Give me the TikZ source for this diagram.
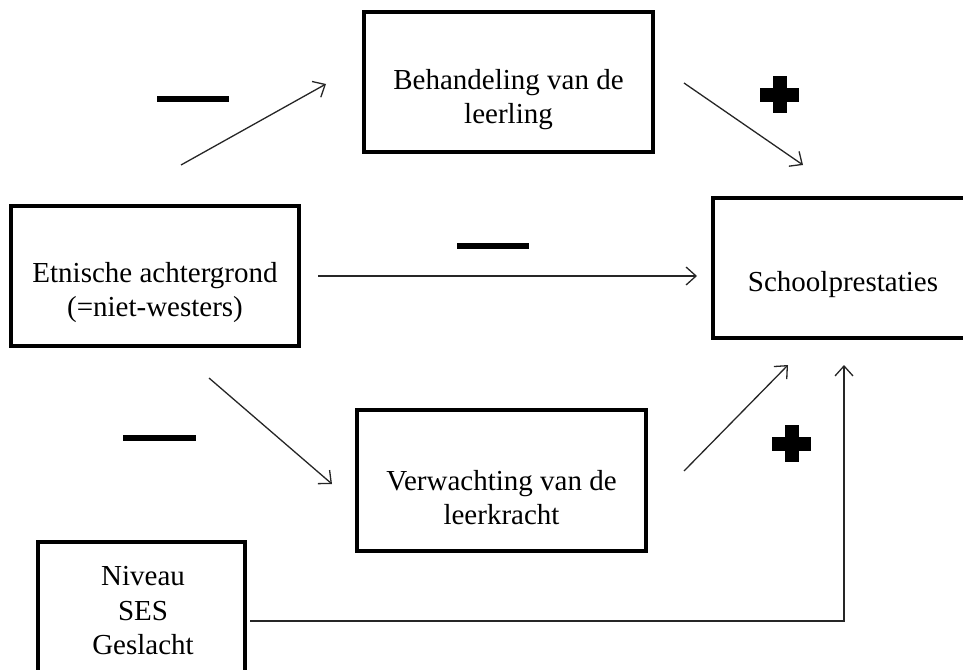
\documentclass[tikz,border=0pt]{standalone}
\usepackage{fontspec}
\setmainfont{Liberation Serif}
\usetikzlibrary{arrows.meta}
\begin{document}
\begin{tikzpicture}[x=1pt,y=-1pt,
  box/.style={draw=black,line width=3.5pt,rectangle,inner sep=0pt,outer sep=0pt},
  txt/.style={align=center,font=\fontsize{29}{34.5}\selectfont,inner sep=0pt},
  arr/.style={draw=black!85,line width=1.3pt,-{Straight Barb[length=10pt,width=18pt,line width=1.3pt]}},
  minus/.style={line width=6pt,draw=black},
  plusmark/.style={fill=black}]
\useasboundingbox (0,0) rectangle (963,669);
\clip (0,0) rectangle (963,669);

% boxes
\node[box,minimum width=289pt,minimum height=140pt] (beh) at (508.5,82) {};
\node[box,minimum width=288pt,minimum height=140pt] (etn) at (155,276) {};
\node[box,minimum width=297pt,minimum height=140pt] (sch) at (861.5,268) {};
\node[box,minimum width=289pt,minimum height=141pt] (ver) at (501.5,480.5) {};
\node[box,minimum width=207pt,minimum height=150pt] (niv) at (141.5,617) {};

% texts
\node[txt] (behT) at (508.5,99.5) {Behandeling van de\\leerling};
\node[txt] (etnT) at (155,292.5) {Etnische achtergrond\\(=niet-westers)};
\node[txt] (schT) at (843,284.5) {Schoolprestaties};
\node[txt] (verT) at (501.5,497.5) {Verwachting van de\\leerkracht};
\node[txt] (nivT) at (143,611) {Niveau\\SES\\Geslacht};

% arrow end points
\coordinate (a1s) at (181,165); \coordinate (a1e) at (326,84);
\coordinate (a2s) at (684,83);  \coordinate (a2e) at (803,165);
\coordinate (a3s) at (318,276); \coordinate (a3e) at (697,276);
\coordinate (a4s) at (209,378); \coordinate (a4e) at (332,484);
\coordinate (a5s) at (684,471); \coordinate (a5e) at (788,365);
\coordinate (a6s) at (250,621); \coordinate (a6c) at (844,621); \coordinate (a6e) at (844,365);

\draw[arr] (a1s) -- (a1e);
\draw[arr] (a2s) -- (a2e);
\draw[arr] (a3s) -- (a3e);
\draw[arr] (a4s) -- (a4e);
\draw[arr] (a5s) -- (a5e);
\draw[arr] (a6s) -- (a6c) -- (a6e);

% minus signs
\coordinate (m1a) at (157,98.5);  \coordinate (m1b) at (229,98.5);
\coordinate (m2a) at (457,246);   \coordinate (m2b) at (529,246);
\coordinate (m3a) at (123,438);   \coordinate (m3b) at (196,438);
\draw[minus] (m1a) -- (m1b);
\draw[minus] (m2a) -- (m2b);
\draw[minus] (m3a) -- (m3b);

% plus signs
\foreach \cx/\cy in {779.5/94.5, 791.5/443.5}{
  \fill[plusmark] (\cx-19.5,\cy-7) rectangle (\cx+19.5,\cy+7);
  \fill[plusmark] (\cx-7,\cy-18.5) rectangle (\cx+7,\cy+18.5);
}
\end{tikzpicture}
\end{document}
